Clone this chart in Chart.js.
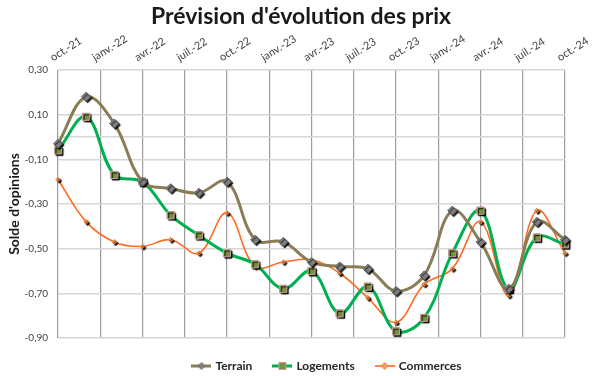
<!DOCTYPE html>
<html lang="fr">
<head>
<meta charset="utf-8">
<title>Prévision d'évolution des prix</title>
<script src="https://cdn.jsdelivr.net/npm/chart.js@4.4.1/dist/chart.umd.min.js"></script>
<style>
  html, body { margin: 0; padding: 0; background: #fff; }
  #wrap { width: 605px; height: 376px; position: relative; }
</style>
</head>
<body>
<div id="wrap"><canvas id="prixChart"></canvas></div>
<script>
/* ========================================
   DONNÉES
   ======================================== */

// Relevés bimestriels, en mois écoulés depuis oct.-21
const periodes = ['oct.-21', 'déc.-21', 'févr.-22', 'avr.-22', 'juin-22', 'août-22', 'oct.-22',
  'déc.-22', 'févr.-23', 'avr.-23', 'juin-23', 'août-23', 'oct.-23', 'déc.-23', 'févr.-24',
  'avr.-24', 'juin-24', 'août-24', 'oct.-24'];
const mois = [0, 2, 4, 6, 8, 10, 12, 14, 16, 18, 20, 22, 24, 26, 28, 30, 32, 34, 36];

const terrain = [-0.03, 0.18, 0.06, -0.20, -0.23, -0.25, -0.20, -0.46, -0.47, -0.56,
  -0.58, -0.59, -0.69, -0.62, -0.33, -0.47, -0.68, -0.38, -0.46];
const logements = [-0.06, 0.09, -0.17, -0.20, -0.35, -0.44, -0.52, -0.57, -0.68, -0.60,
  -0.79, -0.67, -0.87, -0.81, -0.52, -0.33, -0.68, -0.45, -0.48];
const commerces = [-0.19, -0.38, -0.47, -0.49, -0.46, -0.52, -0.34, -0.58, -0.56, -0.55,
  -0.61, -0.72, -0.83, -0.66, -0.59, -0.38, -0.71, -0.33, -0.52];

// Étiquettes de l'axe du temps (tous les 3 mois)
const xTickLabels = ['oct.-21', 'janv.-22', 'avr.-22', 'juil.-22', 'oct.-22', 'janv.-23',
  'avr.-23', 'juil.-23', 'oct.-23', 'janv.-24', 'avr.-24', 'juil.-24', 'oct.-24'];
const yTicks = [0.30, 0.10, 0.00, -0.10, -0.30, -0.50, -0.70, -0.90];

/* ========================================
   OUTILS
   ======================================== */

function points(valeurs) {
  return valeurs.map((v, i) => ({ x: mois[i], y: v }));
}

function formatFr(v) {
  return v.toFixed(2).replace('.', ',');
}

/**
 * Dessine un marqueur (losange ou carré) sur un contexte 2d
 */
function dessinerMarqueur(g, style, x, y, r) {
  g.beginPath();
  if (style === 'rect') {
    g.rect(x - r, y - r, 2 * r, 2 * r);
  } else {
    g.moveTo(x, y - r);
    g.lineTo(x + r, y);
    g.lineTo(x, y + r);
    g.lineTo(x - r, y);
    g.closePath();
  }
}

/**
 * Icône de légende : trait + marqueur au centre
 */
function iconeLegende(ds) {
  const c = document.createElement('canvas');
  c.width = 20;
  c.height = 12;
  const g = c.getContext('2d');
  g.strokeStyle = ds.borderColor;
  g.lineWidth = ds.borderWidth;
  g.beginPath();
  g.moveTo(0, 6);
  g.lineTo(20, 6);
  g.stroke();
  dessinerMarqueur(g, ds.pointStyle, 10, 6, 3.5);
  g.fillStyle = ds.pointBackgroundColor;
  g.fill();
  g.lineWidth = 1;
  g.strokeStyle = ds.pointBorderColor;
  g.stroke();
  return c;
}

// Ombre portée des marqueurs (redessinés après chaque série)
const ombreMarqueurs = {
  id: 'ombreMarqueurs',
  afterDatasetDraw(chart, args) {
    const ctx = chart.ctx;
    ctx.save();
    ctx.shadowColor = 'rgba(0,0,0,0.9)';
    ctx.shadowOffsetX = 1.5;
    ctx.shadowOffsetY = 1.5;
    ctx.shadowBlur = 1;
    args.meta.data.forEach(pt => pt.draw(ctx, chart.chartArea));
    ctx.restore();
  }
};

// Recentre le titre et la légende sur toute la largeur
const recentrage = {
  id: 'recentrage',
  afterLayout(chart) {
    chart.titleBlock.left = 0;
    chart.titleBlock.right = 602;
    chart.legend.left = 50;
    chart.legend.right = 605;
  }
};

/* ========================================
   GRAPHIQUE
   ======================================== */

function buildChart() {
  const canvas = document.getElementById('prixChart');

  new Chart(canvas, {
    type: 'line',
    data: {
      datasets: [
        {
          label: 'Terrain',
          data: points(terrain),
          borderColor: '#8A7D56',
          borderWidth: 3,
          pointStyle: 'rectRot',
          pointRadius: 4.5,
          pointBackgroundColor: '#7F7F7F',
          pointBorderColor: '#6E6E6E',
          pointBorderWidth: 1,
          tension: 0.38
        },
        {
          label: 'Logements',
          data: points(logements),
          borderColor: '#00B050',
          borderWidth: 3,
          pointStyle: 'rect',
          pointRadius: 5,
          pointBackgroundColor: '#77933C',
          pointBorderColor: '#C49A9A',
          pointBorderWidth: 1,
          tension: 0.38
        },
        {
          label: 'Commerces',
          data: points(commerces),
          borderColor: '#FF6A23',
          borderWidth: 1.6,
          pointStyle: 'rectRot',
          pointRadius: 2.2,
          pointBackgroundColor: '#F0A060',
          pointBorderColor: '#F08040',
          pointBorderWidth: 1,
          tension: 0.38
        }
      ]
    },
    options: {
      responsive: true,
      maintainAspectRatio: false,
      animation: false,
      layout: {
        padding: { left: 0, right: 40, top: 0, bottom: 0 }
      },
      plugins: {
        title: {
          display: true,
          text: "Prévision d'évolution des prix",
          color: '#1A1A1A',
          font: { family: 'Lato', size: 23, weight: 'bold' },
          padding: { top: 3, bottom: 0 }
        },
        legend: {
          position: 'bottom',
          maxHeight: 38,
          labels: {
            usePointStyle: true,
            pointStyleWidth: 16,
            padding: 22,
            color: '#262626',
            font: { family: 'Lato', size: 12, weight: 'bold' },
            generateLabels(chart) {
              return chart.data.datasets.map((ds, i) => ({
                text: ds.label,
                pointStyle: iconeLegende(ds),
                datasetIndex: i,
                fillStyle: 'transparent',
                strokeStyle: 'transparent',
                lineWidth: 0,
                fontColor: '#262626',
                hidden: false
              }));
            }
          }
        },
        tooltip: { enabled: false }
      },
      scales: {
        x: {
          type: 'linear',
          position: 'top',
          min: 0,
          max: 36,
          afterBuildTicks(scale) {
            scale.ticks = xTickLabels.map((_, i) => ({ value: i * 3 }));
          },
          afterFit(scale) {
            scale.height = 39.4;
          },
          ticks: {
            autoSkip: false,
            minRotation: 32,
            maxRotation: 32,
            padding: 6,
            color: '#404040',
            font: { family: 'Lato', size: 11 },
            callback: v => xTickLabels[Math.round(v / 3)]
          },
          grid: {
            color: '#9C9C9C',
            lineWidth: 1.2,
            drawTicks: false
          },
          border: { display: false }
        },
        y: {
          min: -0.9,
          max: 0.3,
          afterBuildTicks(scale) {
            scale.ticks = yTicks.map(v => ({ value: v }));
          },
          afterFit(scale) {
            scale.width = 58;
          },
          title: {
            display: true,
            text: "Solde d'opinions",
            color: '#1A1A1A',
            font: { family: 'Lato', size: 14, weight: 'bold' },
            padding: { top: 6, bottom: 0 }
          },
          ticks: {
            padding: 10,
            color: '#404040',
            font: { family: 'Lato', size: 10 },
            callback: v => (Math.abs(v) < 0.001 ? '' : formatFr(v))
          },
          grid: {
            color: '#D6D6D6',
            lineWidth: 1.6,
            drawTicks: false
          },
          border: { display: false }
        }
      }
    },
    plugins: [ombreMarqueurs, recentrage]
  });
}

buildChart();
</script>
</body>
</html>
